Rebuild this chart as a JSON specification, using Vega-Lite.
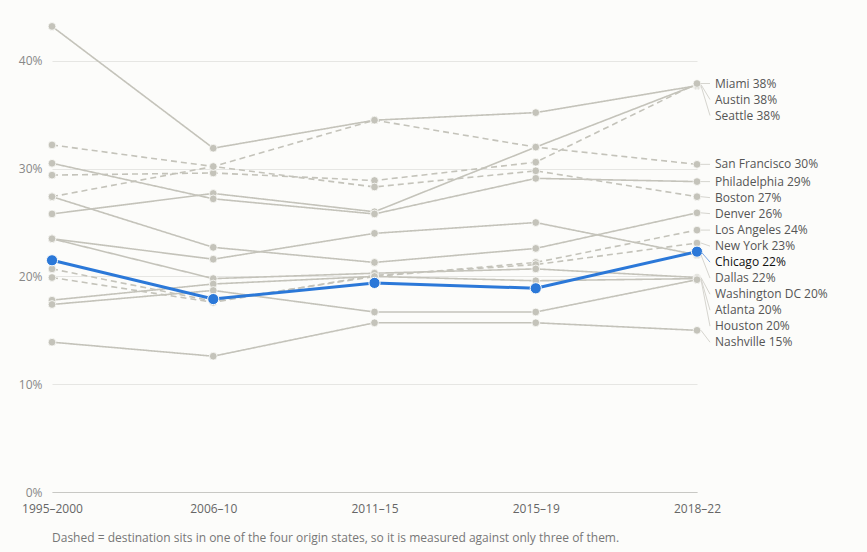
{
  "$schema": "https://vega.github.io/schema/vega-lite/v6.json",
  "width": 645,
  "height": 485,
  "autosize": "none",
  "padding": {"left": 52, "top": 7, "right": 170, "bottom": 60},
  "background": "#fcfcfa",
  "config": {
    "font": "Open Sans",
    "view": {"stroke": null}
  },
  "title": {
    "text": "Dashed = destination sits in one of the four origin states, so it is measured against only three of them.",
    "orient": "bottom",
    "anchor": "start",
    "frame": "group",
    "offset": 19,
    "fontSize": 12,
    "fontWeight": "normal",
    "color": "#777777"
  },
  "data": {
    "values": [
      {"city": "Seattle", "period": "1995–2000", "share": 43.2, "origin_state": false},
      {"city": "Seattle", "period": "2006–10", "share": 31.9, "origin_state": false},
      {"city": "Seattle", "period": "2011–15", "share": 34.5, "origin_state": false},
      {"city": "Seattle", "period": "2015–19", "share": 35.2, "origin_state": false},
      {"city": "Seattle", "period": "2018–22", "share": 37.7, "origin_state": false},
      {"city": "Austin", "period": "1995–2000", "share": 25.8, "origin_state": false},
      {"city": "Austin", "period": "2006–10", "share": 27.7, "origin_state": false},
      {"city": "Austin", "period": "2011–15", "share": 26.0, "origin_state": false},
      {"city": "Austin", "period": "2015–19", "share": 32.0, "origin_state": false},
      {"city": "Austin", "period": "2018–22", "share": 37.8, "origin_state": false},
      {"city": "Miami", "period": "1995–2000", "share": 29.4, "origin_state": true},
      {"city": "Miami", "period": "2006–10", "share": 29.6, "origin_state": true},
      {"city": "Miami", "period": "2011–15", "share": 28.9, "origin_state": true},
      {"city": "Miami", "period": "2015–19", "share": 30.6, "origin_state": true},
      {"city": "Miami", "period": "2018–22", "share": 37.9, "origin_state": true},
      {"city": "San Francisco", "period": "1995–2000", "share": 32.2, "origin_state": true},
      {"city": "San Francisco", "period": "2006–10", "share": 30.2, "origin_state": true},
      {"city": "San Francisco", "period": "2011–15", "share": 34.5, "origin_state": true},
      {"city": "San Francisco", "period": "2015–19", "share": 32.0, "origin_state": true},
      {"city": "San Francisco", "period": "2018–22", "share": 30.4, "origin_state": true},
      {"city": "Philadelphia", "period": "1995–2000", "share": 30.5, "origin_state": false},
      {"city": "Philadelphia", "period": "2006–10", "share": 27.2, "origin_state": false},
      {"city": "Philadelphia", "period": "2011–15", "share": 25.8, "origin_state": false},
      {"city": "Philadelphia", "period": "2015–19", "share": 29.1, "origin_state": false},
      {"city": "Philadelphia", "period": "2018–22", "share": 28.8, "origin_state": false},
      {"city": "Boston", "period": "1995–2000", "share": 27.4, "origin_state": true},
      {"city": "Boston", "period": "2006–10", "share": 30.2, "origin_state": true},
      {"city": "Boston", "period": "2011–15", "share": 28.3, "origin_state": true},
      {"city": "Boston", "period": "2015–19", "share": 29.8, "origin_state": true},
      {"city": "Boston", "period": "2018–22", "share": 27.4, "origin_state": true},
      {"city": "Denver", "period": "1995–2000", "share": 27.4, "origin_state": false},
      {"city": "Denver", "period": "2006–10", "share": 22.7, "origin_state": false},
      {"city": "Denver", "period": "2011–15", "share": 21.3, "origin_state": false},
      {"city": "Denver", "period": "2015–19", "share": 22.6, "origin_state": false},
      {"city": "Denver", "period": "2018–22", "share": 25.9, "origin_state": false},
      {"city": "Los Angeles", "period": "1995–2000", "share": 20.7, "origin_state": true},
      {"city": "Los Angeles", "period": "2006–10", "share": 17.7, "origin_state": true},
      {"city": "Los Angeles", "period": "2011–15", "share": 20.0, "origin_state": true},
      {"city": "Los Angeles", "period": "2015–19", "share": 21.3, "origin_state": true},
      {"city": "Los Angeles", "period": "2018–22", "share": 24.3, "origin_state": true},
      {"city": "New York", "period": "1995–2000", "share": 19.9, "origin_state": true},
      {"city": "New York", "period": "2006–10", "share": 17.6, "origin_state": true},
      {"city": "New York", "period": "2011–15", "share": 20.1, "origin_state": true},
      {"city": "New York", "period": "2015–19", "share": 21.1, "origin_state": true},
      {"city": "New York", "period": "2018–22", "share": 23.1, "origin_state": true},
      {"city": "Chicago", "period": "1995–2000", "share": 21.5, "origin_state": false},
      {"city": "Chicago", "period": "2006–10", "share": 17.9, "origin_state": false},
      {"city": "Chicago", "period": "2011–15", "share": 19.4, "origin_state": false},
      {"city": "Chicago", "period": "2015–19", "share": 18.9, "origin_state": false},
      {"city": "Chicago", "period": "2018–22", "share": 22.3, "origin_state": false},
      {"city": "Dallas", "period": "1995–2000", "share": 23.5, "origin_state": false},
      {"city": "Dallas", "period": "2006–10", "share": 21.6, "origin_state": false},
      {"city": "Dallas", "period": "2011–15", "share": 24.0, "origin_state": false},
      {"city": "Dallas", "period": "2015–19", "share": 25.0, "origin_state": false},
      {"city": "Dallas", "period": "2018–22", "share": 22.0, "origin_state": false},
      {"city": "Washington DC", "period": "1995–2000", "share": 23.5, "origin_state": false},
      {"city": "Washington DC", "period": "2006–10", "share": 19.8, "origin_state": false},
      {"city": "Washington DC", "period": "2011–15", "share": 20.3, "origin_state": false},
      {"city": "Washington DC", "period": "2015–19", "share": 20.7, "origin_state": false},
      {"city": "Washington DC", "period": "2018–22", "share": 19.9, "origin_state": false},
      {"city": "Atlanta", "period": "1995–2000", "share": 17.8, "origin_state": false},
      {"city": "Atlanta", "period": "2006–10", "share": 19.3, "origin_state": false},
      {"city": "Atlanta", "period": "2011–15", "share": 20.0, "origin_state": false},
      {"city": "Atlanta", "period": "2015–19", "share": 19.6, "origin_state": false},
      {"city": "Atlanta", "period": "2018–22", "share": 19.8, "origin_state": false},
      {"city": "Houston", "period": "1995–2000", "share": 17.4, "origin_state": false},
      {"city": "Houston", "period": "2006–10", "share": 18.7, "origin_state": false},
      {"city": "Houston", "period": "2011–15", "share": 16.7, "origin_state": false},
      {"city": "Houston", "period": "2015–19", "share": 16.7, "origin_state": false},
      {"city": "Houston", "period": "2018–22", "share": 19.7, "origin_state": false},
      {"city": "Nashville", "period": "1995–2000", "share": 13.9, "origin_state": false},
      {"city": "Nashville", "period": "2006–10", "share": 12.6, "origin_state": false},
      {"city": "Nashville", "period": "2011–15", "share": 15.7, "origin_state": false},
      {"city": "Nashville", "period": "2015–19", "share": 15.7, "origin_state": false},
      {"city": "Nashville", "period": "2018–22", "share": 15.0, "origin_state": false}
    ]
  },
  "encoding": {
    "x": {
      "field": "period",
      "type": "ordinal",
      "sort": ["1995–2000", "2006–10", "2011–15", "2015–19", "2018–22"],
      "scale": {"type": "point", "padding": 0},
      "axis": {
        "title": null,
        "labelAngle": 0,
        "labelFontSize": 12,
        "labelColor": "#666666",
        "labelPadding": 11,
        "ticks": false,
        "domainColor": "#c8c8c4",
        "grid": false
      }
    },
    "y": {
      "field": "share",
      "type": "quantitative",
      "scale": {"domain": [0, 45], "nice": false},
      "axis": {
        "title": null,
        "values": [0, 10, 20, 30, 40],
        "labelExpr": "datum.value + '%'",
        "labelFontSize": 12,
        "labelColor": "#888888",
        "labelPadding": 10,
        "domain": false,
        "ticks": false,
        "gridColor": "#e6e6e3"
      }
    }
  },
  "layer": [
    {
      "transform": [{"filter": "datum.city !== 'Chicago'"}],
      "mark": {"type": "line", "color": "#c4c3ba", "strokeWidth": 1.6},
      "encoding": {
        "detail": {"field": "city"},
        "strokeDash": {
          "field": "origin_state",
          "type": "nominal",
          "scale": {"domain": [false, true], "range": [[1, 0], [6, 4]]},
          "legend": null
        }
      }
    },
    {
      "transform": [{"filter": "datum.city !== 'Chicago'"}],
      "mark": {"type": "circle", "color": "#c4c3ba", "opacity": 1, "size": 60, "stroke": "#fcfcfa", "strokeWidth": 0.8}
    },
    {
      "transform": [{"filter": "datum.city === 'Chicago'"}],
      "mark": {"type": "line", "color": "#2b78d8", "strokeWidth": 3}
    },
    {
      "transform": [{"filter": "datum.city === 'Chicago'"}],
      "mark": {"type": "circle", "color": "#2b78d8", "opacity": 1, "size": 125, "stroke": "#fcfcfa", "strokeWidth": 1}
    },
    {
      "transform": [
        {"filter": "datum.period === '2018–22'"},
        {
          "window": [{"op": "row_number", "as": "rank"}],
          "sort": [{"field": "share", "order": "descending"}]
        },
        {"calculate": "datum.share + 1.486 * datum.rank", "as": "stack_key"},
        {
          "window": [{"op": "min", "field": "stack_key", "as": "stack_min"}],
          "sort": [{"field": "share", "order": "descending"}],
          "frame": [null, 0]
        },
        {"calculate": "datum.stack_min - 1.486 * datum.rank", "as": "label_pos"},
        {"calculate": "datum.city + ' ' + format(datum.share, '.0f') + '%'", "as": "full_label"}
      ],
      "layer": [
        {
          "mark": {"type": "rule", "strokeWidth": 1, "xOffset": 4, "x2Offset": 13},
          "encoding": {
            "x2": {"field": "period"},
            "y2": {"field": "label_pos"},
            "color": {
              "condition": {"test": "datum.city === 'Chicago'", "value": "#7fa9e3"},
              "value": "#d6d5cf"
            }
          }
        },
        {
          "mark": {"type": "text", "align": "left", "baseline": "middle", "dx": 18, "fontSize": 12},
          "encoding": {
            "y": {"field": "label_pos", "type": "quantitative"},
            "text": {"field": "full_label"},
            "color": {
              "condition": {"test": "datum.city === 'Chicago'", "value": "#111111"},
              "value": "#555555"
            },
            "fontWeight": {
              "condition": {"test": "datum.city === 'Chicago'", "value": "bold"},
              "value": "normal"
            }
          }
        }
      ]
    }
  ]
}
